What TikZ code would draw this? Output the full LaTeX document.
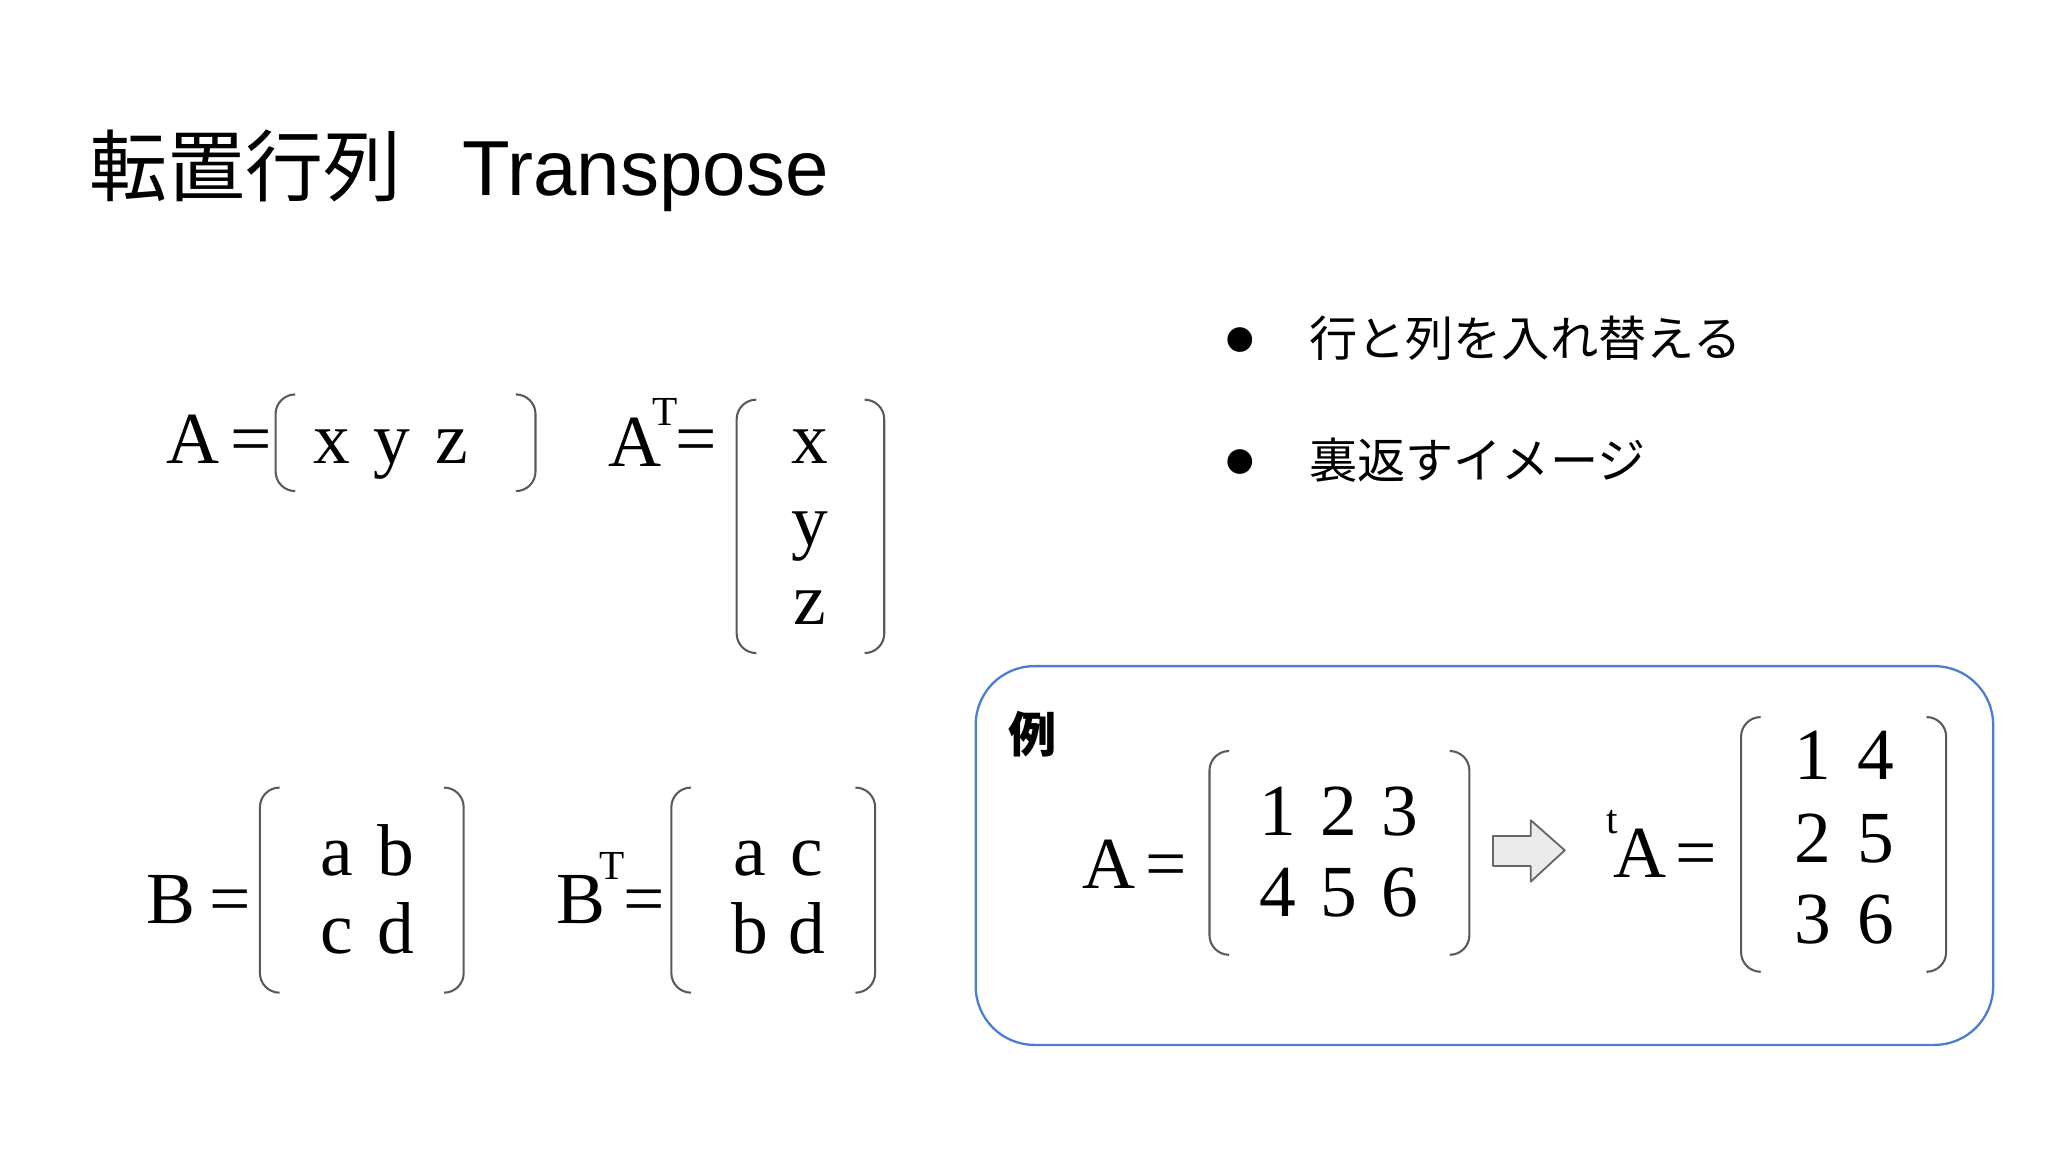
\documentclass[tikz,border=0pt]{standalone}
\usepackage{fontspec}
\setmainfont{Liberation Serif}
\newfontfamily\jp{Noto Sans CJK JP}
\newfontfamily\arial{Liberation Sans}
\definecolor{boxblue}{HTML}{4A7FD0}
\begin{document}
\begin{tikzpicture}[x=0.02cm,y=-0.02cm,
  mt/.style={inner sep=0pt,anchor=base,font=\fontsize{32}{38}\selectfont},
  sup/.style={inner sep=0pt,anchor=base,font=\fontsize{18}{22}\selectfont},
  brk/.style={draw=black!65,line width=0.9pt,rounded corners=0.3cm},
  jt/.style={inner sep=0pt,anchor=base west,font=\jp\fontsize{21}{26}\selectfont}]
\useasboundingbox (0,0) rectangle (1568,882);
\newcommand{\lb}[3]{\draw[brk] (#1+14,#2) -- (#1,#2) -- (#1,#3) -- (#1+14,#3);}
\newcommand{\rb}[3]{\draw[brk] (#1-14,#2) -- (#1,#2) -- (#1,#3) -- (#1-14,#3);}
% title
\node[inner sep=0pt,anchor=base west,font=\jp\fontsize{34}{40}\selectfont] (t1) at (68,150) {転置行列};
\node[inner sep=0pt,anchor=base west,font=\arial\fontsize{34}{40}\selectfont] (t2) at (354,150) {Transpose};
% bullets
\node[inner sep=0pt,anchor=base west,font=\jp\fontsize{12}{14}\selectfont] (b1) at (939,268) {●};
\node[jt] (b1t) at (1002,273) {行と列を入れ替える};
\node[inner sep=0pt,anchor=base west,font=\jp\fontsize{12}{14}\selectfont] (b2) at (939,362) {●};
\node[jt] (b2t) at (1002,366) {裏返すイメージ};
% A
\node[mt] (A) at (148,355) {A};
\node[mt] (Aeq) at (192,355) {=};
\lb{211}{302}{376}\rb{410}{302}{376}
\node[mt] (ax) at (254,355) {x};
\node[mt] (ay) at (300,355) {y};
\node[mt] (az) at (346,355) {z};
% AT
\node[mt] (AT) at (486,357) {A};
\node[sup] (ATt) at (509,326) {T};
\node[mt] (ATeq) at (533,355) {=};
\lb{564}{306}{500}\rb{677}{306}{500}
\node[mt] (tx) at (620,355) {x};
\node[mt] (ty) at (620,418) {y};
\node[mt] (tz) at (620,478) {z};
% B
\node[mt] (B) at (131,707) {B};
\node[mt] (Beq) at (176,707) {=};
\lb{199}{603}{760}\rb{355}{603}{760}
\node[mt] (ba) at (258,670) {a};
\node[mt] (bb) at (303,670) {b};
\node[mt] (bc) at (258,730) {c};
\node[mt] (bd) at (303,730) {d};
% BT
\node[mt] (BT) at (445,707) {B};
\node[sup] (BTt) at (469,673) {T};
\node[mt] (BTeq) at (493,707) {=};
\lb{514}{603}{760}\rb{670}{603}{760}
\node[mt] (ca) at (574,670) {a};
\node[mt] (cc) at (618,670) {c};
\node[mt] (cb) at (574,730) {b};
\node[mt] (cd) at (618,730) {d};
% example box
\draw[draw=boxblue,line width=1pt,rounded corners=0.9cm] (747,510) rectangle (1526,800);
\node[inner sep=0pt,anchor=base west,font=\jp\bfseries\fontsize{21}{26}\selectfont] (rei) at (772,576) {例};
\node[mt] (EA) at (849,680) {A};
\node[mt] (EAeq) at (893,680) {=};
\lb{926}{575}{731}\rb{1125}{575}{731}
\node[mt] (e1) at (978,640) {1};
\node[mt] (e2) at (1025,640) {2};
\node[mt] (e3) at (1072,640) {3};
\node[mt] (e4) at (978,702) {4};
\node[mt] (e5) at (1025,702) {5};
\node[mt] (e6) at (1072,702) {6};
\draw[draw=black!60,fill=black!8,line width=0.8pt,line join=round] (1143,640) -- (1172,640) -- (1172,628) -- (1198,651) -- (1172,675) -- (1172,663) -- (1143,663) -- cycle;
\node[sup] (Et) at (1234,638) {t};
\node[mt] (EtA) at (1256,672) {A};
\node[mt] (EtAeq) at (1299,672) {=};
\lb{1333}{549}{744}\rb{1490}{549}{744}
\node[mt] (f1) at (1388,597) {1};
\node[mt] (f4) at (1436,597) {4};
\node[mt] (f2) at (1388,660) {2};
\node[mt] (f5) at (1436,660) {5};
\node[mt] (f3) at (1388,722) {3};
\node[mt] (f6) at (1436,722) {6};
\end{tikzpicture}
\end{document}
